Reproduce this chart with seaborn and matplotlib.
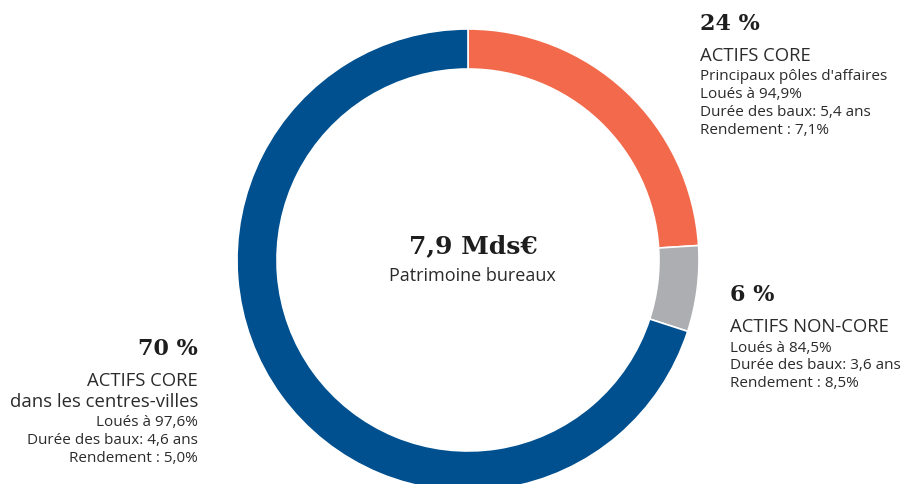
import matplotlib.pyplot as plt
import seaborn as sns

# data
segments = ["core_business", "non_core", "core_city"]
shares = [24, 6, 70]
pct_labels = ["24 %", "6 %", "70 %"]
titles = ["ACTIFS CORE", "ACTIFS NON-CORE", "ACTIFS CORE\ndans les centres-villes"]
details = [
    ["Principaux pôles d'affaires", "Loués à 94,9%", "Durée des baux: 5,4 ans", "Rendement : 7,1%"],
    ["Loués à 84,5%", "Durée des baux: 3,6 ans", "Rendement : 8,5%"],
    ["Loués à 97,6%", "Durée des baux: 4,6 ans", "Rendement : 5,0%"],
]
total_label = "7,9 Mds€"
total_caption = "Patrimoine bureaux"

sns.set_theme(style="white")
plt.rcParams['font.family'] = ['Open Sans', 'DejaVu Sans']
colors = sns.color_palette(["#F26A4B", "#ADAEB1", "#00508F"])

W, H = 905, 484
fig = plt.figure(figsize=(W / 100, H / 100), dpi=100)
fig.patch.set_facecolor("white")
ax = fig.add_axes([0, 0, 1, 1])

cx, cy, r = 468, 260, 231
ax.pie(shares, colors=colors, center=(cx, cy), radius=r,
       startangle=-90, counterclock=True,
       wedgeprops=dict(width=40, edgecolor="white", linewidth=1.2))
ax.set_xlim(0, W)
ax.set_ylim(H, 0)
ax.set_aspect("equal")
ax.axis("off")

serif = dict(family="DejaVu Serif", weight="bold", color="#1e1e1e")
dark = "#2b2b2b"

# label blocks: (x, baseline of pct, alignment)
blocks = [(700, 30, "left"), (730, 301, "left"), (198, 355, "right")]
for i, (x, y, ha) in enumerate(blocks):
    ax.text(x, y, pct_labels[i], ha=ha, va="baseline", fontsize=16, **serif)
    yy = y + 31
    for line in titles[i].split("\n"):
        ax.text(x, yy, line, ha=ha, va="baseline", fontsize=13.3, color=dark)
        yy += 21
    yy -= 1.5
    for line in details[i]:
        ax.text(x, yy, line, ha=ha, va="baseline", fontsize=11, color=dark)
        yy += 17.8

ax.text(473, 253, total_label, ha="center", va="baseline", fontsize=18, **serif)
ax.text(472, 281, total_caption, ha="center", va="baseline", fontsize=13, color=dark)

fig.savefig("out.png", dpi=100, facecolor="white")
